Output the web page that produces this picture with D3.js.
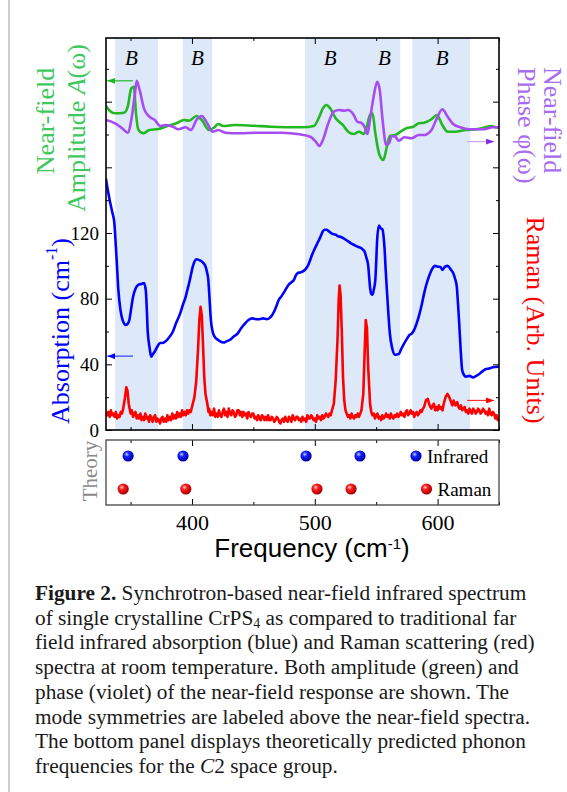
<!DOCTYPE html>
<html>
<head>
<meta charset="utf-8">
<script src="https://cdn.jsdelivr.net/npm/d3@7"></script>
<style>
  body { margin: 0; background: #fff; }
  svg { display: block; }
  text { font-family: "Liberation Serif", "DejaVu Serif", serif; }
</style>
</head>
<body>
<script>
'use strict';

// ---- data (frequency in cm^-1) ----
const freqDomain = [330, 650];

// shaded regions where the B modes sit
const bands = [[337.5, 372.5], [392.5, 416.5], [492, 569.5], [579.5, 626.5]];
const modeLabels = [350.6, 404.5, 512.5, 556.7, 603.8];

// far-field absorption, cm^-1
const absorption = [
  [330,153],[331.5,146],[333,140],[335,133],[336.8,126],[338,112],[338.8,102],[340,86],[341.8,73],
  [343.5,67],[346.2,64],[348,65],[349,67],[350.5,74],[352,81],[354,86],[356.5,88.5],[359,89],
  [361,89.5],[362.4,85],[363.2,74],[363.9,61],[365.5,50],[366.8,44.7],[368,46],[369.7,47.8],
  [372,51],[374,53],[376,53],[378.6,54],[381,56],[384.5,60],[387,65],[390.4,71],[392.5,76],
  [394.8,81],[396.5,86],[397.7,89.5],[399,94],[400.7,99.7],[402,102.5],[403.6,104],[406,103.5],
  [408,102.7],[409.5,101.5],[411,99.7],[412.3,96],[413.3,91.5],[414.3,80],[415.4,67],[416.8,60],
  [418.3,57],[421,55],[423,54],[425.7,53.3],[428,54],[431.6,55.3],[434,57],[437.5,59],[440,62],
  [443.3,65],[446,67],[449.2,68],[452,67.5],[455,67.5],[458,68],[461,67.5],[464,68.7],[466.9,72.2],
  [469,76],[470.5,79],[472.8,81.4],[475,84],[477,86.5],[478.7,88.5],[481,90],[483,91.5],[484.5,94],
  [486,95.6],[488,96],[490.4,96.6],[492.5,98],[494.8,100.7],[496.5,104],[497.8,106.8],[500,110.5],
  [502.2,113.9],[504.5,117.5],[506.6,121],[508,122],[509.6,122],[511.5,121],[514,119.6],[517,119],
  [519,118],[521.4,117.6],[524,116.5],[527.2,114.9],[530,113.5],[533.1,112.3],[535.5,111.5],
  [537.5,110.9],[539,110],[540.5,108.8],[542,105],[543.4,100.7],[544.3,93],[544.9,87.5],[546,83],
  [547,82.4],[548.2,86],[549.3,91.5],[550,102],[550.8,115.9],[552.3,124.5],[553.5,123],[555.2,122],
  [556,118],[556.7,111.9],[557.7,98],[558.7,85.4],[560,70],[561.1,59],[563,50],[565.5,45.8],
  [568.5,46.4],[570.5,49.5],[572.9,52.9],[575,55.5],[577.3,58],[578.5,58.5],[580.2,60],[582.5,64],
  [584.7,69.2],[587,76],[589.1,83.4],[591,89],[593.5,94.6],[595.5,98],[597.9,100],[600,99.5],
  [602.4,99.3],[604,97.5],[606,99.5],[608.3,100],[610.5,98],[612.7,95.6],[614.3,92],[615.6,87.5],
  [616.7,76],[617.6,65],[618.7,50],[620,36.6],[621.5,33.5],[623,32.5],[626,33],[628.8,32],
  [631.5,33],[634.7,34.6],[637,36],[639,37],[642,37.5],[645,38.2],[647.5,38.4],[650,38.6]
];

// Raman intensity, plotted on the absorption scale (arb. units)
const raman = [
  [330,11],[331,9],[332,11],[333,8],[334,12],[335,9],[336,10],[337,8],[338,11],[339,7],[340,9],
  [341,8],[342,11],[343,10],[344,13],[345.5,20],[346.5,26],[347.5,24],[348.5,16],[349.5,12],
  [350,10],[351,12],[352,8],[353,10],[354,11],[355,7],[356,9],[357,7],[358,10],[359,6],[360,8],
  [361,6],[362,10],[363,7],[364,8],[365,5],[366,9],[367,7],[368,5],[369,8],[370,9],[371,5],[372,7],
  [373,6],[374,4],[375,7],[376,8],[377,5],[378,7],[379,5],[380,9],[381,6],[382,8],[383,6],[384,10],
  [385,7],[386,9],[387,7],[388,11],[389,8],[390,10],[391,8],[392,12],[393,9],[394,11],[395,9],
  [396,12],[397,10],[398,12],[399,11],[400,14],[402,20],[403.5,30],[405,50],[406,67],[407,75],
  [408,70],[409,52],[410,32],[411,22],[412.5,16],[413.5,11],[414,13],[415,9],[416,11],[417,9],
  [418,13],[419,8],[420,10],[421,8],[422,12],[423,9],[424,8],[425,11],[426,13],[427,9],[428,11],
  [429,8],[430,13],[431,10],[432,9],[433,12],[434,11],[435,8],[436,9],[437,12],[438,12],[439,9],
  [440,11],[441,8],[442,11],[443,9],[444,10],[445,7],[446,11],[447,9],[448,8],[449,10],[450,10],
  [451,7],[452,8],[453,6],[454,9],[455,7],[456,6],[457,9],[458,8],[459,6],[460,8],[461,6],[462,9],
  [463,6],[464,6],[465,8],[466,7],[467,5],[468,6],[469,8],[470,7],[471,5],[472,4],[473,6],[474,7],
  [475,5],[476,8],[477,6],[478,5],[479,8],[480,7],[481,5],[482,9],[483,7],[484,6],[485,8],[486,8],
  [487,6],[488,7],[489,5],[490,8],[491,6],[492,7],[493,5],[494,9],[495,7],[496,7],[497,9],[498,8],
  [499,6],[500,7],[501,5],[502,9],[503,7],[504,8],[505,6],[506,9],[507,7],[508,8],[509,10],[510,9],
  [511,8],[512,10],[513,9],[514,12],[515.5,16],[517,30],[518.5,55],[519.5,80],[520.2,88],[521,82],
  [522,60],[523,32],[524,18],[525,12],[526,10],[527,8],[528,9],[529,7],[530,10],[531,8],[532,7],
  [533,9],[534,8],[535,10],[536,8],[537,10],[538,12],[539.5,22],[540.5,45],[541.5,67],[542.5,62],
  [543.5,38],[545,16],[546,11],[547,9],[548,10],[549,7],[550,9],[551,10],[552,7],[553,8],[554,6],
  [555,9],[556,7],[557,8],[558,10],[559,8],[560,9],[561,7],[562,10],[563,8],[564,7],[565,9],
  [566,8],[567,10],[568,8],[569,9],[570,11],[571,9],[572,10],[573,8],[574,11],[575,12],[576,9],
  [577,10],[578,12],[579,10],[580,11],[581,8],[582,10],[583,11],[584,9],[585,10],[586,12],[587,11],
  [588,13],[589,14],[590.5,18],[592,19],[593.5,15],[595,13],[596,15],[597,16],[598,12],[599,14],
  [600,12],[601,15],[602,13],[603,14],[604,12],[605,16],[606.5,20],[608,22],[609.5,20],[611,17],
  [612,15],[613,18],[614.5,15],[616,17],[617,14],[618,13],[619,15],[620,12],[621,13],[622,14],
  [623,11],[624,12],[625,10],[626,13],[627,11],[628,10],[629,13],[630,12],[631,10],[632,11],
  [633,13],[634,12],[635,10],[636,11],[637,13],[638,12],[639,10],[640,11],[641,9],[642,13],
  [643,10],[644,9],[645,11],[646,10],[647,7],[648,9],[649,6],[650,7]
];

// near-field amplitude A(w), arb. units
const amplitude = [
  [330,6.75],[333,6.16],[337.4,5.84],[344.8,5.91],[347.7,6.66],[350.6,8.96],[352.7,9.16],[354.4,5.84],
  [356.5,3.75],[360.3,3.34],[365.3,3.75],[372.7,3.88],[380,4.25],[387.4,4.59],[393.3,5.0],[397.7,4.91],
  [403.6,5.5],[408,5.0],[413.9,3.75],[418.3,4.09],[421.3,4.5],[425.7,4.25],[434.5,4.38],[449.2,4.29],
  [464,4.16],[478.7,4.09],[490.4,4.09],[499.3,4.25],[503.7,5.41],[506.6,6.46],[509.6,6.88],[512.5,6.46],
  [517,5.21],[522.8,4.38],[527.2,3.54],[531.7,3.25],[536.1,3.54],[539.9,3.25],[542,3.96],[544.9,5.63],
  [547,5.84],[549.3,3.34],[552.3,0.84],[555.8,0],[558.7,1.66],[561.1,3.0],[565.5,3.13],[569.9,3.54],
  [574.3,3.96],[580.2,4.16],[584.7,4.59],[589.1,4.66],[595,5.09],[599.4,5.63],[603.8,4.38],[608.2,3.54],
  [614,3.54],[622.9,3.75],[631.7,3.84],[639,4.09],[643.4,4.25],[647.6,4.09],[650,4.04]
];

// near-field phase phi(w), arb. units
const phase = [
  [330,5.0],[337.4,4.59],[343.2,3.96],[347.7,3.41],[350.6,5.0],[353.6,8.34],[355,9.91],[357.4,8.75],
  [360.9,6.46],[365.3,5.41],[369.7,5.0],[374.2,4.25],[378.6,4.38],[384.5,4.16],[388.9,3.84],[394.8,4.09],
  [399.2,3.75],[403.6,5.0],[408,5.5],[412.4,4.59],[416.9,3.54],[421.3,3.75],[427.2,3.41],[437.5,3.34],
  [455,3.41],[472.8,3.41],[487.5,3.21],[496.3,2.91],[500.8,2.29],[503.7,1.75],[506.6,2.5],[511,4.59],
  [515.5,6.04],[519.9,6.25],[524.3,6.16],[527.2,6.25],[531.7,5.63],[534.6,4.79],[537.5,4.66],[540.5,4.16],
  [542.9,3.25],[544.9,5.0],[547.9,7.91],[550.8,9.79],[552.9,8.75],[555.2,5.0],[558.2,1.88],[560.5,2.09],
  [562.6,3.0],[565.5,2.91],[568.5,2.41],[572.9,2.84],[578.8,2.71],[584.7,3.13],[589.1,3.13],[595,3.75],
  [599.4,5.21],[603.8,6.34],[608.2,5.41],[612.6,4.5],[618.5,4.09],[625.9,3.84],[637.7,3.84],[645,4.09],
  [650,4.09]
];

// theoretically predicted phonon frequencies (C2)
const theoryIR = [348, 392.7, 492.9, 536.8];
const theoryRaman = [344, 395, 501.8, 529.5];

// axis-pointing arrows: which curve goes with which side
const arrows = [
  { from: 352, to: 331, value: 9.9, scale: "near", color: "#22b822", head: "#22b822" },
  { from: 624, to: 646, value: 2.3, scale: "near", color: "#cfa4f6", head: "#8a2be2" },
  { from: 352, to: 331, value: 45, scale: "abs", color: "#2a3cff", head: "#0000ff" },
  { from: 624, to: 646, value: 18, scale: "abs", color: "#ff3030", head: "#ff0000" }
];

// caption, one entry per printed line: [text, style]
const captionLines = [
  [["Figure 2.", "b"], [" Synchrotron-based near-field infrared spectrum", ""]],
  [["of single crystalline CrPS", ""], ["4", "sub"], [" as compared to traditional far", ""]],
  [["field infrared absorption (blue) and Raman scattering (red)", ""]],
  [["spectra at room temperature. Both amplitude (green) and", ""]],
  [["phase (violet) of the near-field response are shown. The", ""]],
  [["mode symmetries are labeled above the near-field spectra.", ""]],
  [["The bottom panel displays theoretically predicted phonon", ""]],
  [["frequencies for the ", ""], ["C", "i"], ["2 space group.", ""]]
];

// ---- layout ----
const W = 567, H = 792;
const plot = { left: 106, right: 499, top: 38, bottom: 430 };
const theory = { top: 440, bottom: 505 };

const svg = d3.select("body").append("svg")
  .attr("width", W)
  .attr("height", H);

// light page border on the left
svg.append("line")
  .attr("x1", 9).attr("x2", 9)
  .attr("y1", 0).attr("y2", H)
  .attr("stroke", "#cfcfcf")
  .attr("stroke-width", 2);

const x = d3.scaleLinear().domain(freqDomain).range([plot.left, plot.right]);
const y = d3.scaleLinear().domain([0, 120]).range([plot.bottom, 233]);
const yNear = d3.scaleLinear().domain([0, 10]).range([160, 80]);
const yTheory = d3.scalePoint().domain(["Infrared", "Raman"]).range([456, 489]);

const defs = svg.append("defs");
defs.append("clipPath").attr("id", "plot-clip")
  .append("rect")
    .attr("x", plot.left).attr("y", plot.top)
    .attr("width", plot.right - plot.left)
    .attr("height", plot.bottom - plot.top);

// shaded "ball" look for the theory markers
function ball(id, light, mid, dark) {
  const g = defs.append("radialGradient")
    .attr("id", id)
    .attr("cx", "38%").attr("cy", "35%").attr("r", "65%");
  g.append("stop").attr("offset", "0%").attr("stop-color", light);
  g.append("stop").attr("offset", "35%").attr("stop-color", mid);
  g.append("stop").attr("offset", "100%").attr("stop-color", dark);
}
ball("ball-blue", "#c8ccff", "#1020ff", "#00009a");
ball("ball-red", "#ffd0d0", "#ff1a1a", "#a00000");

// arrow heads
arrows.forEach((a, i) => {
  defs.append("marker")
    .attr("id", `arrow-${i}`)
    .attr("viewBox", "0 0 8 6")
    .attr("refX", 8).attr("refY", 3)
    .attr("markerWidth", 8).attr("markerHeight", 6)
    .attr("markerUnits", "userSpaceOnUse")
    .attr("orient", "auto")
    .append("path")
      .attr("d", "M0,0L8,3L0,6Z")
      .attr("fill", a.head);
});

// blue bands
svg.append("g")
  .selectAll("rect")
  .data(bands)
  .enter()
  .append("rect")
    .attr("x", (d) => x(d[0]))
    .attr("y", plot.top)
    .attr("width", (d) => x(d[1]) - x(d[0]))
    .attr("height", plot.bottom - plot.top)
    .attr("fill", "#dde8f8");

// curves
const lines = svg.append("g").attr("clip-path", "url(#plot-clip)");
const smooth = (ys) => d3.line().x((d) => x(d[0])).y((d) => ys(d[1])).curve(d3.curveMonotoneX);
const jagged = (ys) => d3.line().x((d) => x(d[0])).y((d) => ys(d[1]));

lines.append("path").datum(raman)
  .attr("d", jagged(y))
  .attr("fill", "none").attr("stroke", "#ff0000").attr("stroke-width", 2.6)
  .attr("stroke-linejoin", "round");
lines.append("path").datum(absorption)
  .attr("d", smooth(y))
  .attr("fill", "none").attr("stroke", "#0000ff").attr("stroke-width", 2.6)
  .attr("stroke-linejoin", "round");
lines.append("path").datum(amplitude)
  .attr("d", smooth(yNear))
  .attr("fill", "none").attr("stroke", "#22b822").attr("stroke-width", 2.6);
lines.append("path").datum(phase)
  .attr("d", smooth(yNear))
  .attr("fill", "none").attr("stroke", "#a64cf2").attr("stroke-width", 2.6);

// axis arrows
svg.append("g")
  .selectAll("line")
  .data(arrows)
  .enter()
  .append("line")
    .attr("x1", (d) => x(d.from))
    .attr("x2", (d) => x(d.to))
    .attr("y1", (d) => (d.scale === "near" ? yNear : y)(d.value))
    .attr("y2", (d) => (d.scale === "near" ? yNear : y)(d.value))
    .attr("stroke", (d) => d.color)
    .attr("stroke-width", 1.2)
    .attr("marker-end", (d, i) => `url(#arrow-${i})`);

// mode symmetry labels
svg.append("g")
  .selectAll("text")
  .data(modeLabels)
  .enter()
  .append("text")
    .attr("x", (d) => x(d))
    .attr("y", 65)
    .attr("text-anchor", "middle")
    .attr("font-style", "italic")
    .attr("font-size", 21)
    .text("B");

// ---- axes (ticks point inward) ----
const xMajor = [400, 500, 600];
const xMinor = [350, 450, 550, 650];
const yMajor = [0, 40, 80, 120, 160, 200];
const yMinor = [20, 60, 100, 140, 180, 220];

function styleAxis(g) {
  g.select(".domain").remove();
  g.selectAll(".tick line").attr("stroke", "#000").attr("stroke-width", 1);
}

function xTicks(yPos, axisFn, labels) {
  svg.append("g")
    .attr("transform", `translate(0,${yPos})`)
    .call(axisFn(x).tickValues(xMajor).tickSize(-6).tickPadding(9)
      .tickFormat(labels ? d3.format("d") : ""))
    .call(styleAxis)
    .call((g) => g.selectAll("text")
      .style("font-family", "Liberation Serif").attr("font-size", 22).attr("fill", "#000"));
  svg.append("g")
    .attr("transform", `translate(0,${yPos})`)
    .call(axisFn(x).tickValues(xMinor).tickSize(-3).tickFormat(""))
    .call(styleAxis);
}
xTicks(plot.top, d3.axisTop, false);
xTicks(plot.bottom, d3.axisBottom, false);
xTicks(theory.top, d3.axisTop, false);
xTicks(theory.bottom, d3.axisBottom, true);

function yTicks(xPos, axisFn, labels) {
  svg.append("g")
    .attr("transform", `translate(${xPos},0)`)
    .call(axisFn(y).tickValues(yMajor).tickSize(-6).tickPadding(7)
      .tickFormat((d) => (labels && d <= 120 ? d : "")))
    .call(styleAxis)
    .call((g) => g.selectAll("text")
      .style("font-family", "Liberation Serif").attr("font-size", 19).attr("fill", "#000"));
  svg.append("g")
    .attr("transform", `translate(${xPos},0)`)
    .call(axisFn(y).tickValues(yMinor).tickSize(-3).tickFormat(""))
    .call(styleAxis);
}
yTicks(plot.left, d3.axisLeft, true);
yTicks(plot.right, d3.axisRight, false);

// frames
svg.append("rect")
  .attr("x", plot.left).attr("y", plot.top)
  .attr("width", plot.right - plot.left).attr("height", plot.bottom - plot.top)
  .attr("fill", "none").attr("stroke", "#000").attr("stroke-width", 1.6);
svg.append("rect")
  .attr("x", plot.left).attr("y", theory.top)
  .attr("width", plot.right - plot.left).attr("height", theory.bottom - theory.top)
  .attr("fill", "none").attr("stroke", "#444").attr("stroke-width", 1.3);

// ---- theory panel ----
const theoryRows = [
  { name: "Infrared", freqs: theoryIR, fill: "url(#ball-blue)" },
  { name: "Raman", freqs: theoryRaman, fill: "url(#ball-red)" }
];
theoryRows.forEach((row) => {
  svg.append("g")
    .selectAll("circle")
    .data(row.freqs)
    .enter()
    .append("circle")
      .attr("cx", (d) => x(d))
      .attr("cy", yTheory(row.name))
      .attr("r", 5.6)
      .attr("fill", row.fill);
});

// legend inside the theory panel
const legend = svg.append("g");
theoryRows.forEach((row, i) => {
  const lx = i === 0 ? 416 : 426.5;
  legend.append("circle")
    .attr("cx", lx).attr("cy", yTheory(row.name))
    .attr("r", 5.6).attr("fill", row.fill);
  legend.append("text")
    .attr("x", lx + 11).attr("y", yTheory(row.name) + 6.5)
    .attr("font-size", 19)
    .text(row.name);
});

svg.append("text")
  .attr("transform", "translate(90,471) rotate(-90)")
  .attr("text-anchor", "middle")
  .attr("dominant-baseline", "central")
  .attr("font-size", 21)
  .attr("fill", "#8a8a8a")
  .text("Theory");

// ---- axis titles ----
function vLabel(xPos, yPos, angle, color, anchor) {
  return svg.append("text")
    .attr("transform", `translate(${xPos},${yPos}) rotate(${angle})`)
    .attr("text-anchor", anchor)
    .attr("dominant-baseline", "central")
    .attr("font-size", 26)
    .attr("fill", color);
}

vLabel(45, 121, -90, "#3fc860", "middle").text("Near-field");
const amp = vLabel(76, 128, -90, "#3fc860", "middle");
amp.append("tspan").text("Amplitude ");
amp.append("tspan").attr("font-style", "italic").text("A");
amp.append("tspan").text("(ω)");

const absLabel = vLabel(60, 331, -90, "#0000ff", "middle");
absLabel.append("tspan").text("Absorption (cm");
absLabel.append("tspan").attr("font-size", 16).attr("baseline-shift", "super").text("-1");
absLabel.append("tspan").text(")");

vLabel(552, 67, 90, "#a86cf0", "start").text("Near-field");
vLabel(526, 67, 90, "#a86cf0", "start").text("Phase φ(ω)");
vLabel(535, 320, 90, "#ff0000", "middle").text("Raman (Arb. Units)");

const xLabel = svg.append("text")
  .attr("x", 312).attr("y", 557)
  .attr("text-anchor", "middle")
  .style("font-family", "Liberation Sans, Arial, sans-serif")
  .attr("font-size", 26);
xLabel.append("tspan").text("Frequency (cm");
xLabel.append("tspan").attr("font-size", 15).attr("baseline-shift", "super").text("-1");
xLabel.append("tspan").text(")");

// ---- caption ----
const caption = svg.append("g");
captionLines.forEach((segments, i) => {
  const t = caption.append("text")
    .attr("x", 35)
    .attr("y", 600 + i * 24.7)
    .attr("font-size", 21.3)
    .attr("fill", "#1a1a1a");
  let lowered = false;
  segments.forEach(([str, kind]) => {
    const s = t.append("tspan").text(str);
    if (kind === "b") s.attr("font-weight", "bold");
    if (kind === "i") s.attr("font-style", "italic");
    if (kind === "sub") {
      s.attr("font-size", 14).attr("dy", 3);
      lowered = true;
    } else if (lowered) {
      // back up to the normal baseline after a subscript
      s.attr("dy", -3);
      lowered = false;
    }
  });
});
</script>
</body>
</html>
